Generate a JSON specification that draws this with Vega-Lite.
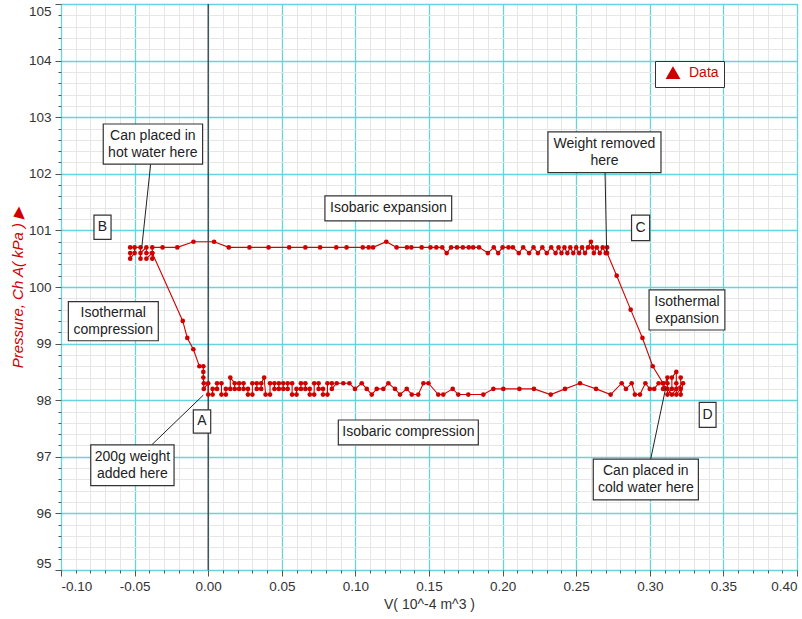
{
  "$schema": "https://vega.github.io/schema/vega-lite/v6.json",
  "width": 736,
  "height": 566,
  "autosize": {"type": "none"},
  "padding": {"left": 61, "top": 4, "right": 5, "bottom": 49},
  "background": "white",
  "config": {"font": "Liberation Sans", "view": {"stroke": "#555", "strokeWidth": 1}},
  "datasets": {
    "pv": [
      {"o":1,"v":-0.053,"p":100.6},{"o":2,"v":-0.053,"p":100.5},{"o":3,"v":-0.05,"p":100.6},{"o":4,"v":-0.05,"p":100.7},{"o":5,"v":-0.053,"p":100.7},{"o":6,"v":-0.046,"p":100.7},{"o":7,"v":-0.046,"p":100.5},{"o":8,"v":-0.046,"p":100.6},{"o":9,"v":-0.042,"p":100.7},{"o":10,"v":-0.042,"p":100.6},{"o":11,"v":-0.038,"p":100.6},{"o":12,"v":-0.038,"p":100.5},{"o":13,"v":-0.038,"p":100.7},
      {"o":14,"v":-0.031,"p":100.7},{"o":15,"v":-0.021,"p":100.7},{"o":16,"v":-0.01,"p":100.8},{"o":17,"v":0.004,"p":100.8},{"o":18,"v":0.014,"p":100.7},{"o":19,"v":0.028,"p":100.7},{"o":20,"v":0.041,"p":100.7},{"o":21,"v":0.055,"p":100.7},{"o":22,"v":0.066,"p":100.7},{"o":23,"v":0.076,"p":100.7},{"o":24,"v":0.087,"p":100.7},{"o":25,"v":0.094,"p":100.7},{"o":26,"v":0.105,"p":100.7},{"o":27,"v":0.109,"p":100.7},{"o":28,"v":0.112,"p":100.7},{"o":29,"v":0.121,"p":100.8},{"o":30,"v":0.128,"p":100.7},{"o":31,"v":0.135,"p":100.7},{"o":32,"v":0.138,"p":100.7},{"o":33,"v":0.145,"p":100.7},{"o":34,"v":0.151,"p":100.7},{"o":35,"v":0.155,"p":100.7},{"o":36,"v":0.159,"p":100.7},{"o":37,"v":0.162,"p":100.6},{"o":38,"v":0.165,"p":100.7},{"o":39,"v":0.169,"p":100.7},{"o":40,"v":0.173,"p":100.7},{"o":41,"v":0.177,"p":100.7},{"o":42,"v":0.18,"p":100.7},{"o":43,"v":0.184,"p":100.7},{"o":44,"v":0.19,"p":100.6},{"o":45,"v":0.194,"p":100.7},{"o":46,"v":0.197,"p":100.6},{"o":47,"v":0.2,"p":100.7},{"o":48,"v":0.204,"p":100.7},{"o":49,"v":0.207,"p":100.7},{"o":50,"v":0.211,"p":100.6},{"o":51,"v":0.214,"p":100.7},{"o":52,"v":0.218,"p":100.6},{"o":53,"v":0.221,"p":100.7},{"o":54,"v":0.224,"p":100.6},{"o":55,"v":0.227,"p":100.7},{"o":56,"v":0.23,"p":100.6},{"o":57,"v":0.233,"p":100.7},{"o":58,"v":0.236,"p":100.6},{"o":59,"v":0.238,"p":100.7},{"o":60,"v":0.24,"p":100.6},{"o":61,"v":0.242,"p":100.7},{"o":62,"v":0.244,"p":100.6},{"o":63,"v":0.246,"p":100.7},{"o":64,"v":0.248,"p":100.6},{"o":65,"v":0.25,"p":100.7},{"o":66,"v":0.252,"p":100.6},{"o":67,"v":0.254,"p":100.7},{"o":68,"v":0.256,"p":100.6},{"o":69,"v":0.258,"p":100.7},{"o":70,"v":0.26,"p":100.8},{"o":71,"v":0.261,"p":100.7},{"o":72,"v":0.262,"p":100.6},{"o":73,"v":0.264,"p":100.7},{"o":74,"v":0.266,"p":100.6},{"o":75,"v":0.268,"p":100.7},{"o":76,"v":0.27,"p":100.6},{"o":77,"v":0.271,"p":100.7},{"o":78,"v":0.271,"p":100.6},
      {"o":79,"v":0.2775,"p":100.2},{"o":80,"v":0.287,"p":99.6},{"o":81,"v":0.295,"p":99.1},{"o":82,"v":0.302,"p":98.6},
      {"o":83,"v":0.309,"p":98.3},{"o":84,"v":0.309,"p":98.2},{"o":85,"v":0.312,"p":98.4},{"o":86,"v":0.312,"p":98.3},{"o":87,"v":0.312,"p":98.1},{"o":88,"v":0.315,"p":98.2},{"o":89,"v":0.315,"p":98.4},{"o":90,"v":0.318,"p":98.5},{"o":91,"v":0.318,"p":98.3},{"o":92,"v":0.318,"p":98.1},{"o":93,"v":0.321,"p":98.2},{"o":94,"v":0.321,"p":98.4},{"o":95,"v":0.321,"p":98.1},{"o":96,"v":0.3226,"p":98.3},{"o":97,"v":0.318,"p":98.2},{"o":98,"v":0.315,"p":98.1},{"o":99,"v":0.312,"p":98.2},{"o":100,"v":0.309,"p":98.3},
      {"o":101,"v":0.306,"p":98.3},{"o":102,"v":0.303,"p":98.2},{"o":103,"v":0.3,"p":98.2},{"o":104,"v":0.297,"p":98.3},{"o":105,"v":0.2933,"p":98.1},{"o":106,"v":0.2899,"p":98.1},{"o":107,"v":0.2877,"p":98.3},{"o":108,"v":0.2838,"p":98.2},{"o":109,"v":0.2809,"p":98.3},{"o":110,"v":0.2734,"p":98.1},{"o":111,"v":0.2635,"p":98.2},{"o":112,"v":0.2526,"p":98.3},{"o":113,"v":0.2424,"p":98.2},{"o":114,"v":0.2327,"p":98.1},{"o":115,"v":0.2213,"p":98.2},{"o":116,"v":0.2114,"p":98.2},{"o":117,"v":0.2005,"p":98.2},{"o":118,"v":0.1937,"p":98.2},{"o":119,"v":0.1869,"p":98.1},{"o":120,"v":0.1767,"p":98.1},{"o":121,"v":0.1699,"p":98.1},{"o":122,"v":0.1661,"p":98.2},{"o":123,"v":0.1597,"p":98.1},{"o":124,"v":0.1563,"p":98.1},{"o":125,"v":0.1496,"p":98.3},{"o":126,"v":0.1462,"p":98.3},{"o":127,"v":0.1427,"p":98.1},{"o":128,"v":0.1383,"p":98.1},{"o":129,"v":0.1349,"p":98.2},{"o":130,"v":0.1303,"p":98.1},{"o":131,"v":0.1269,"p":98.2},{"o":132,"v":0.1224,"p":98.3},{"o":133,"v":0.119,"p":98.2},{"o":134,"v":0.1145,"p":98.2},{"o":135,"v":0.1111,"p":98.1},{"o":136,"v":0.1077,"p":98.2},{"o":137,"v":0.1043,"p":98.3},{"o":138,"v":0.0997,"p":98.2},{"o":139,"v":0.0959,"p":98.3},{"o":140,"v":0.0918,"p":98.3},{"o":141,"v":0.0873,"p":98.3},
      {"o":142,"v":0.084,"p":98.2},{"o":143,"v":0.084,"p":98.3},{"o":144,"v":0.081,"p":98.3},{"o":145,"v":0.081,"p":98.1},{"o":146,"v":0.078,"p":98.1},{"o":147,"v":0.078,"p":98.2},{"o":148,"v":0.075,"p":98.2},{"o":149,"v":0.075,"p":98.3},{"o":150,"v":0.072,"p":98.3},{"o":151,"v":0.072,"p":98.1},{"o":152,"v":0.069,"p":98.1},{"o":153,"v":0.069,"p":98.2},{"o":154,"v":0.066,"p":98.2},{"o":155,"v":0.066,"p":98.3},{"o":156,"v":0.063,"p":98.3},{"o":157,"v":0.063,"p":98.2},{"o":158,"v":0.06,"p":98.2},{"o":159,"v":0.06,"p":98.1},{"o":160,"v":0.057,"p":98.1},{"o":161,"v":0.057,"p":98.3},{"o":162,"v":0.054,"p":98.3},{"o":163,"v":0.054,"p":98.2},{"o":164,"v":0.051,"p":98.2},{"o":165,"v":0.051,"p":98.3},{"o":166,"v":0.048,"p":98.3},{"o":167,"v":0.048,"p":98.2},{"o":168,"v":0.045,"p":98.2},{"o":169,"v":0.045,"p":98.3},{"o":170,"v":0.042,"p":98.3},{"o":171,"v":0.042,"p":98.1},{"o":172,"v":0.039,"p":98.1},{"o":173,"v":0.038,"p":98.4},{"o":174,"v":0.036,"p":98.3},{"o":175,"v":0.036,"p":98.2},{"o":176,"v":0.033,"p":98.2},{"o":177,"v":0.033,"p":98.3},{"o":178,"v":0.03,"p":98.3},{"o":179,"v":0.03,"p":98.1},{"o":180,"v":0.027,"p":98.1},{"o":181,"v":0.027,"p":98.2},{"o":182,"v":0.024,"p":98.2},{"o":183,"v":0.024,"p":98.3},{"o":184,"v":0.021,"p":98.3},{"o":185,"v":0.021,"p":98.2},{"o":186,"v":0.018,"p":98.2},{"o":187,"v":0.018,"p":98.3},{"o":188,"v":0.015,"p":98.4},{"o":189,"v":0.015,"p":98.2},{"o":190,"v":0.012,"p":98.2},{"o":191,"v":0.012,"p":98.1},{"o":192,"v":0.009,"p":98.1},{"o":193,"v":0.009,"p":98.3},{"o":194,"v":0.006,"p":98.3},{"o":195,"v":0.006,"p":98.2},{"o":196,"v":0.003,"p":98.2},{"o":197,"v":0.003,"p":98.1},{"o":198,"v":0.0,"p":98.1},{"o":199,"v":0.0,"p":98.3},{"o":200,"v":-0.003,"p":98.2},{"o":201,"v":-0.003,"p":98.3},
      {"o":202,"v":-0.0033,"p":98.4},{"o":203,"v":-0.0033,"p":98.5},{"o":204,"v":-0.0033,"p":98.6},{"o":205,"v":-0.006,"p":98.6},{"o":206,"v":-0.0101,"p":98.9},{"o":207,"v":-0.0142,"p":99.1},{"o":208,"v":-0.0173,"p":99.4},{"o":209,"v":-0.038,"p":100.6},{"o":210,"v":-0.042,"p":100.5}
    ],
    "boxes": [
      {"label":"Can placed in\nhot water here","lines":2,"x1":-0.0713,"x2":-0.0038,"y1":102.17,"y2":102.88,"cx":-0.0376,"cy":102.525},
      {"label":"B","lines":1,"x1":-0.0776,"x2":-0.066,"y1":100.84,"y2":101.27,"cx":-0.0718,"cy":101.055},
      {"label":"Isobaric expansion","lines":1,"x1":0.0793,"x2":0.1654,"y1":101.17,"y2":101.61,"cx":0.1224,"cy":101.39},
      {"label":"Weight removed\nhere","lines":2,"x1":0.2308,"x2":0.3076,"y1":102.02,"y2":102.74,"cx":0.2692,"cy":102.38},
      {"label":"C","lines":1,"x1":0.2876,"x2":0.2999,"y1":100.82,"y2":101.27,"cx":0.2938,"cy":101.045},
      {"label":"Isothermal\ncompression","lines":2,"x1":-0.095,"x2":-0.0339,"y1":99.05,"y2":99.74,"cx":-0.0645,"cy":99.395},
      {"label":"Isothermal\nexpansion","lines":2,"x1":0.2995,"x2":0.351,"y1":99.24,"y2":99.95,"cx":0.3253,"cy":99.595},
      {"label":"A","lines":1,"x1":-0.0101,"x2":0.0017,"y1":97.42,"y2":97.83,"cx":-0.0042,"cy":97.625},
      {"label":"200g weight\nadded here","lines":2,"x1":-0.0798,"x2":-0.0232,"y1":96.49,"y2":97.21,"cx":-0.0515,"cy":96.85},
      {"label":"Isobaric compression","lines":1,"x1":0.0884,"x2":0.1835,"y1":97.21,"y2":97.65,"cx":0.136,"cy":97.43},
      {"label":"D","lines":1,"x1":0.3336,"x2":0.345,"y1":97.52,"y2":97.96,"cx":0.3393,"cy":97.74},
      {"label":"Can placed in\ncold water here","lines":2,"x1":0.2616,"x2":0.333,"y1":96.24,"y2":96.96,"cx":0.2973,"cy":96.6}
    ],
    "leaders": [
      {"xa":-0.0391,"ya":102.17,"xb":-0.0452,"yb":100.68},
      {"xa":0.2696,"ya":102.02,"xb":0.2707,"yb":100.62},
      {"xa":-0.0384,"ya":97.21,"xb":-0.0033,"yb":98.09},
      {"xa":0.3006,"ya":96.96,"xb":0.311,"yb":98.24}
    ]
  },
  "layer": [
    {
      "data": {"values": [{}]},
      "mark": {"type": "rule", "color": "#333", "strokeWidth": 1.2},
      "encoding": {"x": {"datum": 0, "type": "quantitative"}}
    },
    {
      "data": {"name": "pv"},
      "mark": {"type": "line", "color": "#d10000", "strokeWidth": 1.1},
      "encoding": {
        "x": {
          "field": "v", "type": "quantitative",
          "scale": {"domain": [-0.1, 0.4], "nice": false, "zero": false},
          "axis": {
            "values": [-0.1,-0.09,-0.08,-0.07,-0.06,-0.05,-0.04,-0.03,-0.02,-0.01,0,0.01,0.02,0.03,0.04,0.05,0.06,0.07,0.08,0.09,0.1,0.11,0.12,0.13,0.14,0.15,0.16,0.17,0.18,0.19,0.2,0.21,0.22,0.23,0.24,0.25,0.26,0.27,0.28,0.29,0.3,0.31,0.32,0.33,0.34,0.35,0.36,0.37,0.38,0.39,0.4],
            "tickCount": 500,
            "labelExpr": "abs(round(datum.value*100)) % 5 == 0 ? replace(format(datum.value, '.2f'), '\u2212', '-') : ''",
            "labelFlush": true,
            "labelOverlap": false,
            "labelFontSize": 13.5,
            "labelColor": "#333",
            "labelPadding": 3,
            "domain": false,
            "tickColor": "#555",
            "tickSize": {"condition": {"test": "abs(round(datum.value*100)) % 5 == 0", "value": 6}, "value": 3},
            "grid": true,
            "gridColor": {"condition": {"test": "abs(round(datum.value*100)) % 5 == 0", "value": "#66d3dd"}, "value": "#e6e6e6"},
            "gridWidth": {"condition": {"test": "abs(round(datum.value*100)) % 5 == 0", "value": 1.3}, "value": 1},
            "title": "V( 10^-4 m^3 )",
            "titleFontSize": 14,
            "titleFontWeight": "normal",
            "titleColor": "#333",
            "titlePadding": 5
          }
        },
        "y": {
          "field": "p", "type": "quantitative",
          "scale": {"domain": [95, 105], "nice": false, "zero": false},
          "axis": {
            "values": [95,95.2,95.4,95.6,95.8,96,96.2,96.4,96.6,96.8,97,97.2,97.4,97.6,97.8,98,98.2,98.4,98.6,98.8,99,99.2,99.4,99.6,99.8,100,100.2,100.4,100.6,100.8,101,101.2,101.4,101.6,101.8,102,102.2,102.4,102.6,102.8,103,103.2,103.4,103.6,103.8,104,104.2,104.4,104.6,104.8,105],
            "tickCount": 500,
            "labelExpr": "abs(round(datum.value*10)) % 10 == 0 ? format(datum.value, 'd') : ''",
            "labelFlush": true,
            "labelOverlap": false,
            "labelFontSize": 13.5,
            "labelColor": "#333",
            "labelPadding": 4,
            "domain": false,
            "tickColor": "#555",
            "tickSize": {"condition": {"test": "abs(round(datum.value*10)) % 10 == 0", "value": 6}, "value": 3},
            "grid": true,
            "gridColor": {"condition": {"test": "abs(round(datum.value*10)) % 10 == 0", "value": "#66d3dd"}, "value": "#e6e6e6"},
            "gridWidth": {"condition": {"test": "abs(round(datum.value*10)) % 10 == 0", "value": 1.3}, "value": 1},
            "title": "Pressure, Ch A( kPa )  \u25B6",
            "titleFontSize": 15,
            "titleFontWeight": "normal",
            "titleFontStyle": "italic",
            "titleColor": "#d10000",
            "titlePadding": 3
          }
        },
        "order": {"field": "o", "type": "quantitative"}
      }
    },
    {
      "data": {"name": "pv"},
      "mark": {"type": "circle", "size": 22, "opacity": 1},
      "encoding": {
        "x": {"field": "v", "type": "quantitative"},
        "y": {"field": "p", "type": "quantitative"},
        "color": {
          "datum": "Data",
          "scale": {"range": ["#d10000"]},
          "legend": {
            "orient": "none", "legendX": 594, "legendY": 57,
            "title": null,
            "symbolType": "triangle-up", "symbolSize": 150,
            "symbolFillColor": "#d10000", "symbolStrokeColor": "#d10000",
            "labelFontSize": 14, "labelColor": "#d10000", "labelOffset": 9,
            "symbolOffset": 6,
            "strokeColor": "#333", "fillColor": "white", "padding": 5
          }
        }
      }
    },
    {
      "data": {"name": "leaders"},
      "mark": {"type": "rule", "color": "#222", "strokeWidth": 1},
      "encoding": {
        "x": {"field": "xa", "type": "quantitative"},
        "y": {"field": "ya", "type": "quantitative"},
        "x2": {"field": "xb"},
        "y2": {"field": "yb"}
      }
    },
    {
      "data": {"name": "boxes"},
      "mark": {"type": "rect", "fill": "white", "stroke": "#333", "strokeWidth": 1.2},
      "encoding": {
        "x": {"field": "x1", "type": "quantitative"},
        "x2": {"field": "x2"},
        "y": {"field": "y1", "type": "quantitative"},
        "y2": {"field": "y2"}
      }
    },
    {
      "data": {"name": "boxes"},
      "transform": [{"filter": "datum.lines == 1"}],
      "mark": {"type": "text", "fontSize": 14, "align": "center", "baseline": "middle", "color": "#222"},
      "encoding": {
        "x": {"field": "cx", "type": "quantitative"},
        "y": {"field": "cy", "type": "quantitative"},
        "text": {"field": "label"}
      }
    },
    {
      "data": {"name": "boxes"},
      "transform": [{"filter": "datum.lines == 2"}],
      "mark": {"type": "text", "fontSize": 14, "lineBreak": "\n", "lineHeight": 17, "align": "center", "baseline": "middle", "dy": -8, "color": "#222"},
      "encoding": {
        "x": {"field": "cx", "type": "quantitative"},
        "y": {"field": "cy", "type": "quantitative"},
        "text": {"field": "label"}
      }
    }
  ]
}
